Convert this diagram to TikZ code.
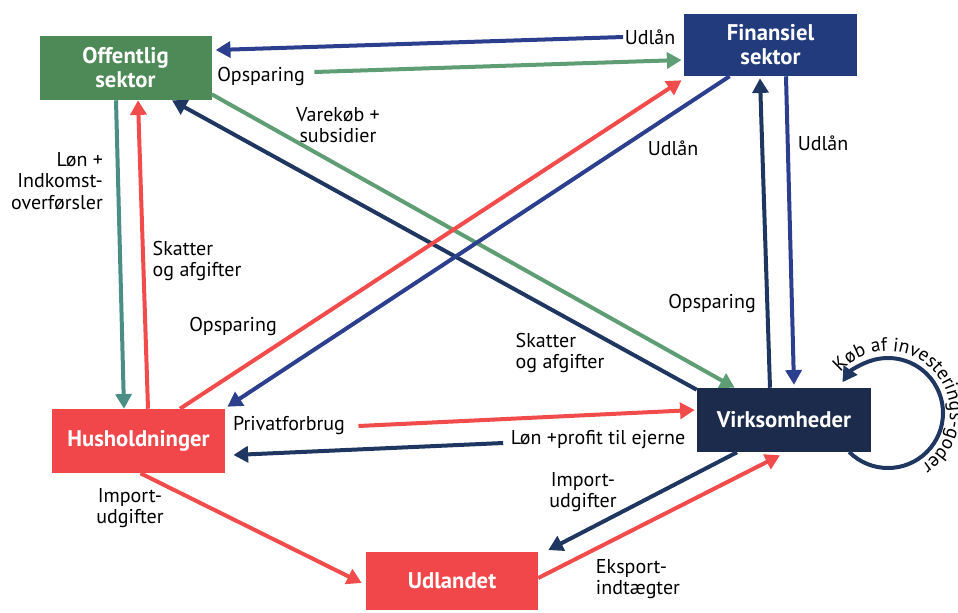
\documentclass[tikz,border=0pt]{standalone}
\usepackage{fontspec}
\setmainfont{PT Sans}
\usetikzlibrary{arrows.meta,calc,decorations.text}
\definecolor{offgreen}{HTML}{4E8A57}
\definecolor{lgreen}{HTML}{5F9E74}
\definecolor{tealln}{HTML}{4A8E86}
\definecolor{finbox}{HTML}{223B7D}
\definecolor{virkbox}{HTML}{1C2B4C}
\definecolor{blueln}{HTML}{2C3F8E}
\definecolor{navyln}{HTML}{1F3760}
\definecolor{redln}{HTML}{F24B4B}
\definecolor{redbox}{HTML}{F2474A}
\tikzset{
  box/.style={draw=none, text=white, font=\fontsize{17}{18}\selectfont\bfseries, align=center, inner sep=0pt},
  lab/.style={font=\fontsize{15}{16}\selectfont, text=black, inner sep=1pt},
  flow/.style={line width=3pt, -{Triangle[length=11pt,width=12pt]}},
}
\begin{document}
\begin{tikzpicture}[x=0.75pt,y=-0.75pt]
\useasboundingbox (0,0) rectangle (958,612);
% boxes
\node[box, fill=offgreen, minimum width=129pt, minimum height=48pt] (off) at (125.5,68) {Offentlig\\sektor};
\node[box, fill=finbox, minimum width=130pt, minimum height=46.5pt] (fin) at (770.5,45) {Finansiel\\sektor};
\node[box, fill=redbox, minimum width=130pt, minimum height=48pt] (hus) at (138.5,441) {Husholdninger};
\node[box, fill=virkbox, minimum width=130.5pt, minimum height=48pt] (virk) at (784,420) {Virksomheder};
\node[box, fill=redbox, minimum width=129pt, minimum height=43pt] (udl) at (452,581) {Udlandet};
\coordinate (lc) at (888,413);
% labels
\node[lab] (l1) at (650,37) {Udlån};
\node[lab] (l2) at (261,76) {Opsparing};
\node[lab, align=center] (l3) at (338,125) {Varekøb +\\subsidier};
\node[lab, align=left] (l4) at (560,353) {Skatter\\og afgifter};
\node[lab, align=right] (l5) at (57,181) {Løn +\\Indkomst-\\overførsler};
\node[lab, align=left] (l6) at (197,261) {Skatter\\og afgifter};
\node[lab] (l7) at (233,326) {Opsparing};
\node[lab] (l8) at (673,148) {Udlån};
\node[lab] (l9) at (712,303) {Opsparing};
\node[lab] (l10) at (823,143) {Udlån};
\node[lab] (l11) at (289,426) {Privatforbrug};
\node[lab] (l12) at (598,440) {Løn +profit til ejerne};
\node[lab, align=center] (l13) at (130,508) {Import-\\udgifter};
\node[lab, align=center] (l14) at (583,492) {Import-\\udgifter};
\node[lab, align=left] (l15) at (638,579) {Eksport-\\indtægter};
% connectors
\draw[flow, blueln] (l1.west) -- ($(off.east)+(4,-18)$);
\draw[flow, lgreen] ($(l2.east)+(8,-4)$) -- ($(fin.west)+(-2,15)$);
\draw[flow, lgreen] ($(off.south east)+(0,-6)$) -- ($(virk.north west)+(38,0)$);
\draw[flow, navyln] ($(virk.north west)+(0,2)$) -- ($(off.south)+(46.5,0)$);
\draw[flow, tealln] ($(off.south)+(-9.5,0)$) -- ($(hus.north)+(-14.5,0)$);
\draw[flow, redln] ($(hus.north)+(9.5,0)$) -- ($(off.south)+(12.5,0)$);
\draw[flow, redln] ($(hus.north)+(41.5,0)$) -- ($(fin.south west)+(-2,4)$);
\draw[flow, blueln] ($(fin.south west)+(46,0)$) -- ($(hus.north east)+(2,-2)$);
\draw[flow, navyln] ($(virk.north)+(-14,0)$) -- ($(fin.south)+(-10.5,2)$);
\draw[flow, blueln] ($(fin.south)+(15.5,0)$) -- ($(virk.north)+(10,-3)$);
\draw[flow, redln] ($(l11.east)+(12,0)$) -- ($(virk.west)+(-2,-10)$);
\draw[flow, navyln] ($(l12.west)+(-6,3)$) -- ($(hus.east)+(8,14)$);
\draw[flow, redln] ($(hus.south)+(2,0)$) -- ($(udl.west)+(-4,2)$);
\draw[flow, navyln] ($(virk.south)+(-47,0)$) -- ($(udl.north east)+(10,-2)$);
\draw[flow, redln] ($(udl.east)+(0,-3)$) -- ($(virk.south)+(-4,3)$);
% loop
\draw[flow, navyln] ($(lc)+(135:55)$) arc[start angle=135, end angle=-146, radius=55];
\path[decorate, decoration={text along path, text align={left indent=0pt},
  text={|\fontsize{14.5}{16}\selectfont|Køb af investerings-goder}}]
  ($(lc)+(-140:62)$) arc[start angle=-140, end angle=60, radius=62];
\end{tikzpicture}
\end{document}
